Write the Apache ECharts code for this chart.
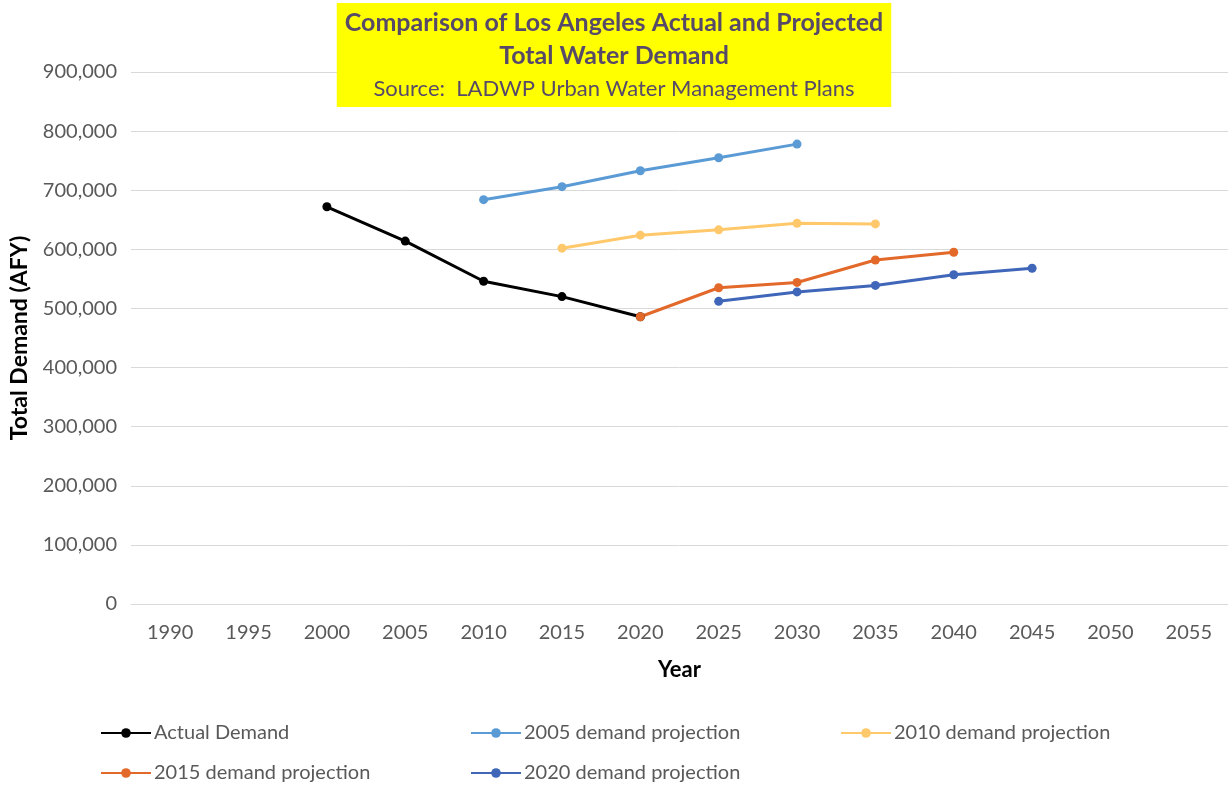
<!DOCTYPE html>
<html>
<head>
<meta charset="utf-8">
<title>Los Angeles Water Demand</title>
<script src="https://cdn.jsdelivr.net/npm/echarts@6/dist/echarts.min.js"></script>
<style>
  html, body { margin: 0; padding: 0; background: #fff; }
  #chart { width: 1228px; height: 786px; }
</style>
</head>
<body>
<div id="chart"></div>
<script>
// years on the category axis
const years = ['1990', '1995', '2000', '2005', '2010', '2015', '2020', '2025', '2030', '2035', '2040', '2045', '2050', '2055']

// demand values (AFY), null where a series has no point
const actualDemand = [null, null, 672000, 614000, 546000, 520000, 486000, null, null, null, null, null, null, null]
const proj2005 = [null, null, null, null, 684000, 706000, 733000, 755000, 778000, null, null, null, null, null]
const proj2010 = [null, null, null, null, null, 602000, 624000, 633000, 644000, 643000, null, null, null, null]
const proj2015 = [null, null, null, null, null, null, 486000, 535000, 544000, 582000, 595000, null, null, null]
const proj2020 = [null, null, null, null, null, null, null, 512000, 528000, 539000, 557000, 568000, null, null]

const seriesNames = ['Actual Demand', '2005 demand projection', '2010 demand projection', '2015 demand projection', '2020 demand projection']
const seriesColors = ['#000000', '#5b9bd5', '#ffc96b', '#e2692a', '#3f66b8']
const seriesData = [actualDemand, proj2005, proj2010, proj2015, proj2020]

const font = 'Lato, "Open Sans", sans-serif'

const chart = echarts.init(document.getElementById('chart'))

// legend placed as separate blocks to mimic the 3-column layout
const legendSpots = [
  { left: 95, top: 718 },
  { left: 465, top: 718 },
  { left: 835, top: 718 },
  { left: 95, top: 758 },
  { left: 465, top: 758 },
]

const option = {
  animation: false,
  backgroundColor: '#fff',
  title: {
    text: 'Comparison of Los Angeles Actual and Projected\nTotal Water Demand',
    subtext: 'Source:  LADWP Urban Water Management Plans',
    left: 'center',
    top: 3,
    backgroundColor: '#ffff00',
    padding: [3, 8, 7, 8],
    itemGap: 6,
    textStyle: {
      fontFamily: font,
      fontSize: 25,
      fontWeight: 'bold',
      color: '#574a69',
      lineHeight: 33,
    },
    subtextStyle: {
      fontFamily: font,
      fontSize: 22,
      color: '#574a69',
    },
  },
  legend: legendSpots.map((spot, i) => ({
    left: spot.left,
    top: spot.top,
    data: [seriesNames[i]],
    itemWidth: 50,
    itemHeight: 12,
    textStyle: { fontFamily: font, fontSize: 20, color: '#595959', padding: [0, 0, 0, -2] },
  })),
  grid: {
    left: 131,
    right: 0,
    top: 72,
    bottom: 182,
  },
  xAxis: {
    type: 'category',
    data: years,
    boundaryGap: true,
    name: 'Year',
    nameLocation: 'middle',
    nameGap: 55,
    nameTextStyle: { fontFamily: font, fontSize: 22, fontWeight: 'bold', color: '#000' },
    axisLine: { show: true, lineStyle: { color: '#d9d9d9', width: 1 } },
    axisTick: { show: false },
    axisLabel: { fontFamily: font, fontSize: 20, color: '#595959', margin: 19 },
    splitLine: { show: false },
  },
  yAxis: {
    type: 'value',
    min: 0,
    max: 900000,
    interval: 100000,
    name: 'Total Demand (AFY)',
    nameLocation: 'middle',
    nameGap: 100,
    nameTextStyle: { fontFamily: font, fontSize: 23, fontWeight: 'bold', color: '#000' },
    axisLine: { show: false },
    axisTick: { show: false },
    axisLabel: {
      fontFamily: font,
      fontSize: 20,
      color: '#595959',
      margin: 14,
      formatter: (v) => v.toLocaleString('en-US'),
    },
    splitLine: { lineStyle: { color: '#d9d9d9', width: 1 } },
  },
  series: seriesNames.map((name, i) => ({
    name: name,
    type: 'line',
    data: seriesData[i],
    connectNulls: false,
    symbol: 'circle',
    symbolSize: 9,
    lineStyle: { color: seriesColors[i], width: 3 },
    itemStyle: { color: seriesColors[i] },
  })),
}

chart.setOption(option)
</script>
</body>
</html>
